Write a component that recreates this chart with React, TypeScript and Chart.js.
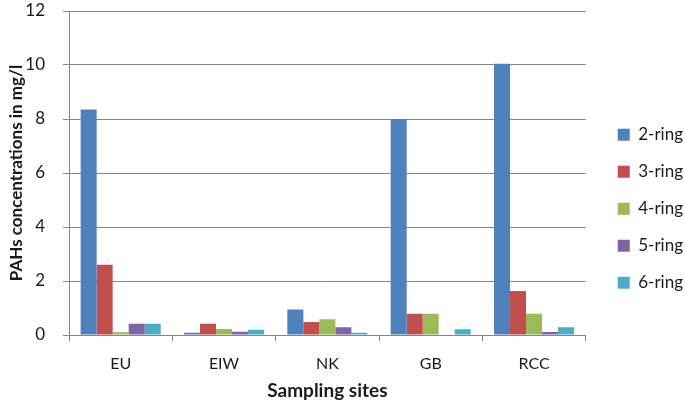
import React, { useEffect, useRef } from "react";
import { Chart, registerables } from "chart.js";

Chart.register(...registerables);

const categories = ["EU", "EIW", "NK", "GB", "RCC"];
const seriesNames = ["2-ring", "3-ring", "4-ring", "5-ring", "6-ring"];
const ring2 = [8.35, 0.08, 0.94, 8.0, 10.05];
const ring3 = [2.6, 0.42, 0.48, 0.79, 1.63];
const ring4 = [0.1, 0.22, 0.58, 0.79, 0.79];
const ring5 = [0.42, 0.12, 0.29, 0.0, 0.11];
const ring6 = [0.42, 0.19, 0.08, 0.21, 0.29];
const yTicks = [0, 2, 4, 6, 8, 10, 12];
const colors = ["#4F81BD", "#C0504D", "#9BBB59", "#8064A2", "#4BACC6"];

const FONT = "Lato, 'Open Sans', sans-serif";
const TEXT = "#1a1a1a";

export default function App() {
  const ref = useRef<HTMLCanvasElement | null>(null);
  useEffect(() => {
    document.body.style.margin = "0";
    const values = [ring2, ring3, ring4, ring5, ring6];
    const chart = new Chart(ref.current!, {
      type: "bar",
      data: {
        labels: categories,
        datasets: seriesNames.map((n, i) => ({
          label: n,
          data: values[i],
          backgroundColor: colors[i],
          borderWidth: 0,
          barPercentage: 1,
          categoryPercentage: 0.775,
        })),
      },
      options: {
        animation: false,
        responsive: false,
        maintainAspectRatio: false,
        layout: { padding: { top: 11, right: -8, bottom: 2, left: 6 } },
        plugins: {
          tooltip: { enabled: false },
          legend: {
            position: "right",
            title: { display: true, text: " ", font: { size: 2 }, padding: 0 },
            labels: {
              boxWidth: 12,
              boxHeight: 12,
              padding: 20,
              color: TEXT,
              font: { family: FONT, size: 17 },
            },
          },
        },
        scales: {
          x: {
            grid: {
              drawOnChartArea: false,
              drawTicks: true,
              tickLength: 6,
              color: "#868686",
              offset: true,
            },
            border: { color: "#868686", width: 1 },
            ticks: { color: TEXT, font: { family: FONT, size: 16 }, padding: 13 },
            title: {
              display: true,
              text: "Sampling sites",
              color: TEXT,
              font: { family: FONT, size: 19, weight: "bold" },
              padding: { top: 0, bottom: 2 },
            },
            afterFit: (axis: any) => {
              axis.height = 69;
            },
          },
          y: {
            min: 0,
            max: 12,
            afterBuildTicks: (axis: any) => {
              axis.ticks = yTicks.map((v) => ({ value: v }));
            },
            afterFit: (axis: any) => {
              axis.paddingTop = 0;
              axis.paddingBottom = 0;
              axis.width = 63;
            },
            grid: { color: "#868686", tickLength: 6, drawTicks: true },
            border: { color: "#868686", width: 1 },
            ticks: { color: TEXT, font: { family: FONT, size: 17 }, padding: 18 },
            title: {
              display: true,
              text: "PAHs concentrations in mg/l",
              color: TEXT,
              font: { family: FONT, size: 17, weight: "bold" },
              padding: { top: 0, bottom: 0 },
            },
          },
          spacer: {
            type: "linear",
            position: "right",
            display: true,
            grid: { drawOnChartArea: false, drawTicks: false },
            border: { display: false },
            ticks: { display: false },
            afterFit: (axis: any) => {
              axis.width = 12;
            },
          },
        },
      },
    });
    return () => chart.destroy();
  }, []);
  return (
    <div style={{ width: 685, height: 406 }}>
      <canvas ref={ref} width={685} height={406} />
    </div>
  );
}
